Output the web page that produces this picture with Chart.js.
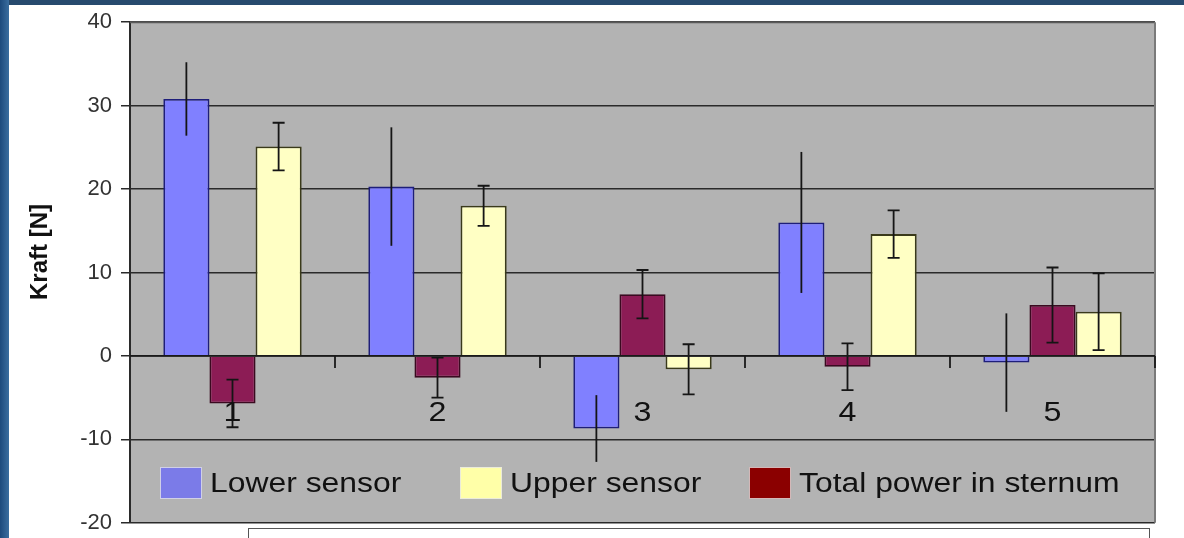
<!DOCTYPE html>
<html><head><meta charset="utf-8">
<script src="https://cdn.jsdelivr.net/npm/chart.js@4/dist/chart.umd.min.js"></script>
<style>
html,body{margin:0;padding:0;background:#fff;}
#wrap{position:relative;width:1184px;height:538px;overflow:hidden;background:#fff;}
#topbar{position:absolute;left:0;top:0;width:1184px;height:5px;background:#274a6e;}
#leftbar{position:absolute;left:0;top:0;width:9px;height:538px;background:linear-gradient(to right,#1d4a7c,#3b6e9f);}
#box{position:absolute;left:248px;top:528px;width:900px;height:20px;border:1px solid #555;background:#fff;}
canvas{position:absolute;left:0;top:0;}
</style></head>
<body><div id="wrap"><canvas id="c" width="1184" height="545"></canvas><div id="topbar"></div><div id="leftbar"></div><div id="box"></div></div>
<script>
const categories = ['1', '2', '3', '4', '5'];
const lowerSensor = [30.8, 20.3, -8.7, 16.0, -0.8];
const lowerErr    = [4.4, 7.1, 4.0, 8.45, 5.9];
const totalPower  = [-5.7, -2.6, 7.4, -1.3, 6.1];
const totalErr    = [2.85, 2.4, 2.9, 2.8, 4.5];
const upperSensor = [25.1, 18.0, -1.6, 14.6, 5.3];
const upperErr    = [2.85, 2.4, 3.0, 2.85, 4.6];
const yMin = -20, yMax = 40, yStep = 10;
const yTitle = 'Kraft [N]';
const legendNames = ['Lower sensor', 'Upper sensor', 'Total power in sternum'];

const FONT = '"Liberation Sans", Arial, sans-serif';

const plotBg = {
  id: 'plotBg',
  beforeDraw(chart) {
    const {ctx, chartArea: a} = chart;
    ctx.save();
    ctx.fillStyle = '#b3b3b3';
    ctx.fillRect(a.left, a.top, a.right - a.left, a.bottom - a.top);
    ctx.restore();
  }
};

const errorBars = {
  id: 'errorBars',
  afterDatasetsDraw(chart) {
    const {ctx} = chart;
    const ys = chart.scales.y;
    chart.data.datasets.forEach((ds, di) => {
      const meta = chart.getDatasetMeta(di);
      meta.data.forEach((bar, i) => {
        const v = ds.data[i], e = ds.errors[i];
        const yTop = ys.getPixelForValue(v + e);
        const yBot = ys.getPixelForValue(v - e);
        const x = bar.x;
        ctx.save();
        ctx.strokeStyle = '#151515';
        ctx.lineWidth = 1.8;
        ctx.beginPath();
        ctx.moveTo(x, yTop); ctx.lineTo(x, yBot);
        if (ds.caps) {
          ctx.moveTo(x - 6, yTop); ctx.lineTo(x + 6, yTop);
          ctx.moveTo(x - 6, yBot); ctx.lineTo(x + 6, yBot);
        }
        ctx.stroke();
        ctx.restore();
      });
    });
  }
};

const decorations = {
  id: 'decorations',
  afterDraw(chart) {
    const {ctx, chartArea: a} = chart;
    const xs = chart.scales.x, ys = chart.scales.y;
    const y0 = ys.getPixelForValue(0);
    ctx.save();
    ctx.strokeStyle = '#5a5a5a';
    ctx.lineWidth = 2;
    ctx.beginPath();
    ctx.moveTo(a.left, a.top); ctx.lineTo(a.right, a.top);
    ctx.stroke();
    ctx.strokeStyle = '#7a7a7a';
    ctx.beginPath();
    ctx.moveTo(a.right, a.top); ctx.lineTo(a.right, a.bottom);
    ctx.stroke();
    ctx.strokeStyle = '#1a1a1a';
    ctx.lineWidth = 1.8;
    ctx.beginPath();
    ctx.moveTo(a.left, y0); ctx.lineTo(a.right, y0);
    for (let i = 0; i < categories.length; i++) {
      const xb = i < categories.length - 1
        ? (xs.getPixelForValue(i) + xs.getPixelForValue(i + 1)) / 2
        : a.right;
      ctx.moveTo(xb, y0); ctx.lineTo(xb, y0 + 12);
    }
    ctx.stroke();
    ctx.fillStyle = '#111';
    ctx.font = '28px ' + FONT;
    ctx.textAlign = 'center';
    ctx.textBaseline = 'middle';
    categories.forEach((c, i) => {
      const x = xs.getPixelForValue(i);
      ctx.save();
      ctx.translate(x, y0 + 57);
      ctx.scale(1.15, 1);
      ctx.fillText(c, 0, 0);
      ctx.restore();
    });
    ctx.save();
    ctx.translate(40, 252);
    ctx.rotate(-Math.PI / 2);
    ctx.font = 'bold 24px ' + FONT;
    ctx.fillStyle = '#111';
    ctx.textAlign = 'center';
    ctx.textBaseline = 'middle';
    ctx.fillText(yTitle, 0, 0);
    ctx.restore();
    const items = [
      {name: legendNames[0], color: '#7b7be8', x: 160},
      {name: legendNames[1], color: '#ffffa8', x: 460},
      {name: legendNames[2], color: '#8b0000', x: 749}
    ];
    items.forEach(it => {
      ctx.fillStyle = it.color;
      ctx.fillRect(it.x, 467, 42, 32);
      ctx.strokeStyle = 'rgba(230,230,230,0.8)';
      ctx.lineWidth = 1;
      ctx.strokeRect(it.x + 0.5, 467.5, 41, 31);
      ctx.save();
      ctx.translate(it.x + 50, 485);
      ctx.scale(1.18, 1);
      ctx.font = '27px ' + FONT;
      ctx.fillStyle = '#111';
      ctx.textAlign = 'left';
      ctx.textBaseline = 'middle';
      ctx.fillText(it.name, 0, 0);
      ctx.restore();
    });
    ctx.restore();
  }
};

new Chart(document.getElementById('c'), {
  type: 'bar',
  data: {
    labels: categories,
    datasets: [
      {label: legendNames[0], data: lowerSensor, errors: lowerErr, caps: false,
       backgroundColor: '#8080ff', borderColor: '#1e1e7a', borderWidth: 1.8},
      {label: legendNames[2], data: totalPower, errors: totalErr, caps: true,
       backgroundColor: '#8c1c55', borderColor: '#3a0a20', borderWidth: 1.8},
      {label: legendNames[1], data: upperSensor, errors: upperErr, caps: true,
       backgroundColor: '#ffffc4', borderColor: '#3a3a1a', borderWidth: 1.8}
    ]
  },
  options: {
    responsive: false,
    animation: false,
    devicePixelRatio: 1,
    layout: {padding: {left: 25, top: 22, right: 29, bottom: 8}},
    categoryPercentage: 0.675,
    barPercentage: 1.0,
    plugins: {legend: {display: false}, tooltip: {enabled: false}},
    scales: {
      x: {display: false, offset: true},
      y: {
        min: yMin, max: yMax,
        afterFit(s) { s.width = 105; },
        ticks: {stepSize: yStep, color: '#333', font: {family: FONT, size: 22}, padding: 9},
        grid: {color: '#2a2a2a', lineWidth: 1.5, tickLength: 9, drawTicks: true},
        border: {display: true, color: '#2a2a2a', width: 2}
      }
    }
  },
  plugins: [plotBg, errorBars, decorations]
});
</script>
</body></html>
